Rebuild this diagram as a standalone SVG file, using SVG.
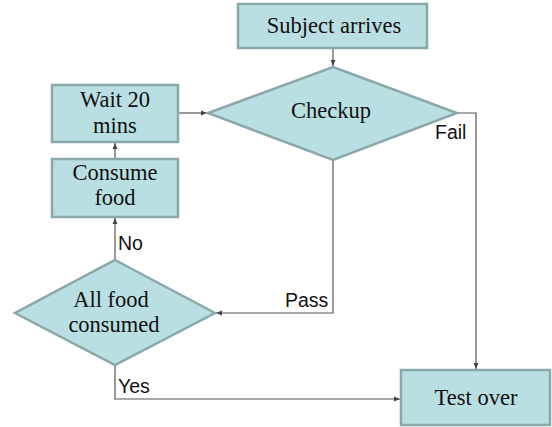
<svg xmlns="http://www.w3.org/2000/svg" width="552" height="427" viewBox="0 0 552 427">
<style>
.n{fill:#b9dfe3;stroke:#8aa8aa;stroke-width:2.5}
.t{font-family:"Liberation Serif",serif;font-size:22.5px;fill:#111;text-anchor:middle}
.l{font-family:"Liberation Sans",sans-serif;font-size:19.5px;fill:#111}
.c{fill:none;stroke:#555;stroke-width:1.2}
</style>
<defs>
<marker id="a" viewBox="0 0 10 10" refX="10" refY="5" markerWidth="5" markerHeight="5" orient="auto">
<path d="M0,1 L10,5 L0,9 z" fill="#444"/>
</marker>
</defs>
<rect width="552" height="427" fill="#fff"/>
<g id="connectors">
<path class="c" d="M333,48 V66" marker-end="url(#a)"/>
<path class="c" d="M178,113 H207" marker-end="url(#a)"/>
<path class="c" d="M115,159 V143" marker-end="url(#a)"/>
<path class="c" d="M115,260 V218" marker-end="url(#a)"/>
<path class="c" d="M457,113 H476 V369" marker-end="url(#a)"/>
<path class="c" d="M333,160 V313 H216" marker-end="url(#a)"/>
<path class="c" d="M115,366 V399 H400" marker-end="url(#a)"/>
<text class="l" x="435" y="139">Fail</text>
<text class="l" x="285" y="307">Pass</text>
<text class="l" x="118" y="250">No</text>
<text class="l" x="118" y="393">Yes</text>
</g>
<g id="subject">
<rect class="n" x="238" y="4" width="189" height="44"/>
<text class="t" x="334" y="33">Subject arrives</text>
</g>
<g id="checkup">
<polygon class="n" points="333,67 457,113 333,160 208,113"/>
<text class="t" x="331" y="118">Checkup</text>
</g>
<g id="wait">
<rect class="n" x="52" y="85" width="126" height="57"/>
<text class="t" x="115" y="107">Wait 20</text>
<text class="t" x="115" y="133">mins</text>
</g>
<g id="consume">
<rect class="n" x="52" y="159" width="126" height="58"/>
<text class="t" x="115" y="180">Consume</text>
<text class="t" x="115" y="205">food</text>
</g>
<g id="allfood">
<polygon class="n" points="115,260 215,313 115,365 15,313"/>
<text class="t" x="111" y="307">All food</text>
<text class="t" x="114" y="332">consumed</text>
</g>
<g id="testover">
<rect class="n" x="401" y="370" width="149" height="55"/>
<text class="t" x="476" y="405">Test over</text>
</g>
</svg>
